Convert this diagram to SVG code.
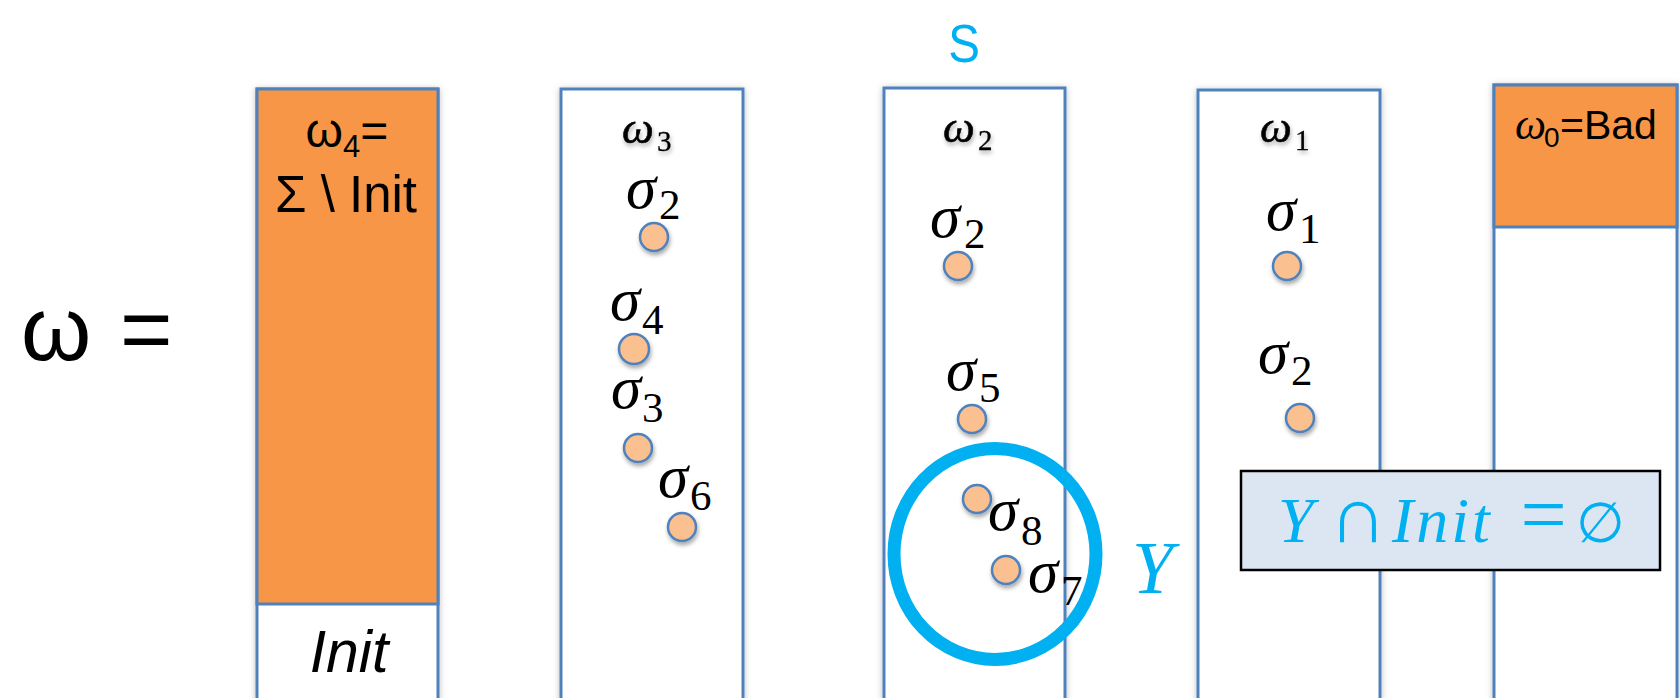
<svg xmlns="http://www.w3.org/2000/svg" width="1680" height="698" viewBox="0 0 1680 698">
<defs>
<filter id="colsh" x="-10%" y="-10%" width="120%" height="120%">
<feDropShadow dx="0" dy="1" stdDeviation="3" flood-color="#000" flood-opacity="0.25"/>
</filter>
<filter id="dotsh" x="-50%" y="-50%" width="200%" height="200%">
<feDropShadow dx="1" dy="3" stdDeviation="2" flood-color="#000" flood-opacity="0.35"/>
</filter>
<filter id="txtsh" x="-20%" y="-30%" width="140%" height="160%">
<feDropShadow dx="1" dy="3" stdDeviation="2" flood-color="#000" flood-opacity="0.3"/>
</filter>
</defs>
<style>
.col{fill:#ffffff;stroke:#4F81BD;stroke-width:3}
.org{fill:#F79646;stroke:#4F81BD;stroke-width:3}
.dot{fill:#FAC090;stroke:#4F81BD;stroke-width:2.5}
.sans{font-family:"Liberation Sans","Open Sans",sans-serif;fill:#000}
.math{font-family:"Liberation Serif","DejaVu Serif",serif;fill:#000}
.it{font-style:italic}
.sig{font-family:"Liberation Serif","DejaVu Serif",serif;font-style:italic;font-size:61px;fill:#000}
.sub{font-style:normal;font-size:43px}
.om{font-family:"Liberation Serif","DejaVu Serif",serif;font-style:italic;font-size:45px;fill:#000;stroke:#000;stroke-width:0.6}
.osub{font-style:normal;font-size:29px;stroke-width:0.3}
.cyan{fill:#00B0F0}
</style>
<rect width="1680" height="698" fill="#ffffff"/>

<g id="omega-eq">
<text class="sans" font-size="90" y="360"><tspan x="21">ω</tspan><tspan x="95"> =</tspan></text>
</g>

<g id="S-label">
<text class="sans cyan" font-size="54" x="964" y="62" text-anchor="middle" transform="translate(964 0) scale(0.88 1) translate(-964 0)">S</text>
</g>

<g id="col-w4">
<rect class="col" x="257" y="89" width="181" height="640" filter="url(#colsh)"/>
<rect class="org" x="257" y="89" width="181" height="515"/>
<text class="sans" font-size="48" x="347" y="147" text-anchor="middle">ω<tspan font-size="31" dy="10">4</tspan><tspan dy="-10">=</tspan></text>
<text class="sans" font-size="51" x="346" y="212" text-anchor="middle">Σ \ Init</text>
<text class="sans it" font-size="59" x="349" y="672" text-anchor="middle">Init</text>
</g>

<g id="col-w3">
<rect class="col" x="561" y="89" width="182" height="640" filter="url(#colsh)"/>
<text class="om" x="622" y="143" filter="url(#txtsh)">ω<tspan class="osub" x="657" y="151">3</tspan></text>
<text class="sig" x="626" y="208">σ<tspan class="sub" x="659" y="219">2</tspan></text>
<circle class="dot" cx="654" cy="237" r="14" filter="url(#dotsh)"/>
<text class="sig" x="610" y="320">σ<tspan class="sub" x="642" y="334">4</tspan></text>
<circle class="dot" cx="634" cy="349" r="15" filter="url(#dotsh)"/>
<text class="sig" x="611" y="408">σ<tspan class="sub" x="642" y="422">3</tspan></text>
<circle class="dot" cx="638" cy="448" r="14" filter="url(#dotsh)"/>
<text class="sig" x="658" y="497">σ<tspan class="sub" x="690" y="510">6</tspan></text>
<circle class="dot" cx="682" cy="527" r="14" filter="url(#dotsh)"/>
</g>

<g id="col-w2">
<rect class="col" x="884" y="88" width="181" height="640" filter="url(#colsh)"/>
<text class="om" x="943" y="142" filter="url(#txtsh)">ω<tspan class="osub" x="978" y="150">2</tspan></text>
<text class="sig" x="930" y="237">σ<tspan class="sub" x="964" y="248">2</tspan></text>
<circle class="dot" cx="958" cy="266" r="14" filter="url(#dotsh)"/>
<text class="sig" x="946" y="390">σ<tspan class="sub" x="979" y="402">5</tspan></text>
<circle class="dot" cx="972" cy="419" r="14" filter="url(#dotsh)"/>
<circle class="dot" cx="977" cy="499" r="14" filter="url(#dotsh)"/>
<text class="sig" x="988" y="530">σ<tspan class="sub" x="1021" y="545">8</tspan></text>
<circle class="dot" cx="1006" cy="570" r="14" filter="url(#dotsh)"/>
<text class="sig" x="1028" y="592">σ<tspan class="sub" x="1061" y="605">7</tspan></text>
</g>

<g id="col-w1">
<rect class="col" x="1198" y="90" width="182" height="640" filter="url(#colsh)"/>
<text class="om" x="1260" y="142" filter="url(#txtsh)">ω<tspan class="osub" x="1295" y="150">1</tspan></text>
<text class="sig" x="1266" y="230">σ<tspan class="sub" x="1299" y="243">1</tspan></text>
<circle class="dot" cx="1287" cy="266" r="14" filter="url(#dotsh)"/>
<text class="sig" x="1258" y="373">σ<tspan class="sub" x="1291" y="385">2</tspan></text>
<circle class="dot" cx="1300" cy="418" r="14" filter="url(#dotsh)"/>
</g>

<g id="col-w0">
<rect class="col" x="1494" y="85" width="183" height="640" filter="url(#colsh)"/>
<rect class="org" x="1494" y="85" width="183" height="142"/>
<text class="sans" font-size="41" y="139"><tspan class="math it" font-size="44" x="1515">ω</tspan><tspan font-size="28" x="1544" y="147">0</tspan><tspan x="1560" y="139">=Bad</tspan></text>
</g>

<g id="Y-set">
<ellipse cx="995" cy="554" rx="101" ry="105.5" fill="none" stroke="#00B0F0" stroke-width="13"/>
<text class="math it cyan" font-size="74" x="1132" y="593">Y</text>
</g>

<g id="note">
<rect x="1241" y="471" width="419" height="99" fill="#DCE6F2" stroke="#000" stroke-width="2.5"/>
<text class="math cyan" font-size="64" y="542"><tspan class="it" x="1278">Y</tspan><tspan x="1309" font-size="80"> ∩</tspan><tspan class="it" x="1373" letter-spacing="3"> Init</tspan><tspan x="1500" font-size="82"> =</tspan><tspan x="1562" font-size="56"> ∅</tspan></text>
</g>
</svg>
